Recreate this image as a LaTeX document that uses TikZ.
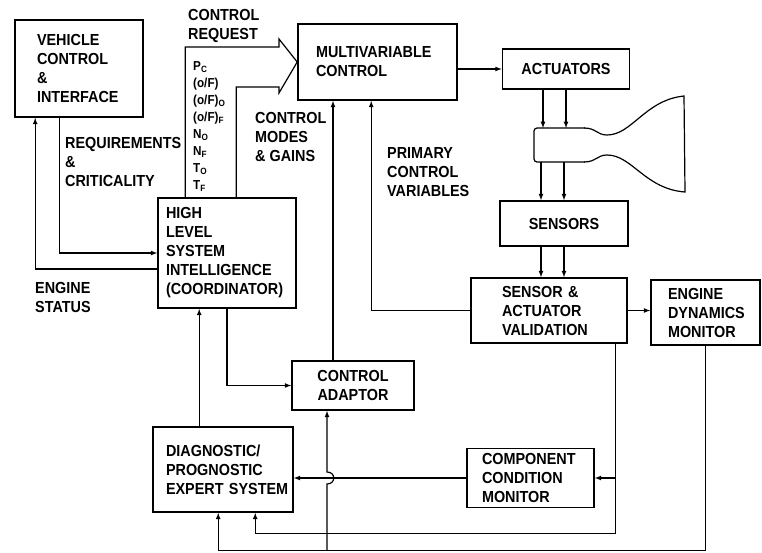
\documentclass[tikz,border=0pt]{standalone}
\usepackage{fontspec}
\setmainfont{Liberation Sans}[FakeStretch=0.9]
\usetikzlibrary{arrows,calc}
\tikzstyle{block}=[draw,line width=1.6pt,inner sep=0pt,font=\bfseries\fontsize{16}{19}\selectfont]
\tikzstyle{edge} = [draw,line width=1.2pt,-latex]
\tikzstyle{line} = [draw,line width=1.2pt]
\tikzstyle{tag} = [inner sep=0pt,anchor=north west,align=left,font=\bfseries\fontsize{16}{19}\selectfont]
\tikzstyle{sig} = [inner sep=0pt,anchor=north west,align=left,font=\bfseries\fontsize{13}{17}\selectfont]

\begin{document}
\begin{tikzpicture}[x=1pt,y=-1pt]
    \useasboundingbox (0,0) rectangle (762,552);

    % boxes
    \node[block,minimum width=128pt,minimum height=97pt,text width=84pt,align=left] (veh) at (79,68.5) {VEHICLE\\CONTROL\\\&\\INTERFACE};
    \node[block,minimum width=159pt,minimum height=76pt,text width=123pt,align=left] (mvc) at (377.5,62) {MULTIVARIABLE\\CONTROL};
    \node[block,minimum width=127pt,minimum height=40pt,align=center] (act) at (566,69) {ACTUATORS};
    \node[block,minimum width=128pt,minimum height=45pt,align=center] (sens) at (564,223.5) {SENSORS};
    \node[block,minimum width=138pt,minimum height=110pt,text width=122pt,align=left] (hlsi) at (227,253) {HIGH\\LEVEL\\SYSTEM\\INTELLIGENCE\\(COORDINATOR)};
    \node[block,minimum width=156pt,minimum height=65pt,text width=94pt,align=left] (sav) at (549,310.5) {SENSOR \&\\ACTUATOR\\VALIDATION};
    \node[block,minimum width=109pt,minimum height=65pt,text width=75pt,align=left] (edm) at (705.5,312.5) {ENGINE\\DYNAMICS\\MONITOR};
    \node[block,minimum width=122pt,minimum height=49pt,align=center] (cad) at (353,385.5) {CONTROL\\ADAPTOR};
    \node[block,minimum width=140pt,minimum height=85pt,text width=114pt,align=left] (diag) at (223,469.5) {DIAGNOSTIC/\\PROGNOSTIC\\\mbox{EXPERT SYSTEM}};
    \node[block,minimum width=127pt,minimum height=59pt,text width=97pt,align=left] (ccm) at (530.5,478) {COMPONENT\\CONDITION\\MONITOR};

    % labels
    \node[tag] (ctrlreq) at (188,9) {CONTROL\\REQUEST};
    \node[sig] (cmds) at (193,61) {P\textsubscript{C}\\(o/F)\\(o/F)\textsubscript{O}\\(o/F)\textsubscript{F}\\N\textsubscript{O}\\N\textsubscript{F}\\T\textsubscript{O}\\T\textsubscript{F}};
    \node[tag] (modes) at (255,112) {CONTROL\\MODES\\\& GAINS};
    \node[tag] (reqcrit) at (65,137) {REQUIREMENTS\\\&\\CRITICALITY};
    \node[tag] (engstat) at (35,282) {ENGINE\\STATUS};
    \node[tag] (primary) at (387,147) {PRIMARY\\CONTROL\\VARIABLES};

    % engine
    \coordinate (chtop) at (566,128);
    \coordinate (chbot) at (564,162);
    \draw[line,rounded corners=3pt] (585,128) -- (534,128) -- (534,162) -- (585,162);
    \draw[line] (584,128) .. controls (596,128) and (597,135) .. (607,135)
        .. controls (632,135) and (645,100) .. (684,96)
        -- (685,192)
        .. controls (645,189) and (632,155) .. (607,155)
        .. controls (597,155) and (596,162) .. (584,162);

    % request arrow
    \draw[line,line join=miter] ($(hlsi.north west)+(28,0)$) |- (279,47) -- (279,39) -- (mvc.west)
        -- (279,93) -- (279,87) -| ($(hlsi.north west)+(79,0)$);

    % signal flow
    \path[edge] (mvc.east |- act.west) -- (act.west);
    \foreach \dx in {-23,0}
    {
        \path[edge] ($(act.south)+(\dx,0)$) -- ($(chtop)+(\dx,0)$);
        \path[edge] ($(chbot)+(\dx,0)$) -- ($(sens.north)+(\dx,0)$);
        \path[edge] ($(sens.south)+(\dx,0)$) -- ($(sav.north)+(\dx+15,0)$);
    }
    \path[edge] (sav.east) -- (sav.east -| edm.west);

    \path[edge] ($(veh.south west)+(45,0)$) |- (hlsi.west);
    \path[edge] ($(hlsi.west)+(0,16)$) -| ($(veh.south west)+(21,0)$);
    \path[edge] (hlsi.south) |- (cad.west);

    \coordinate (d1) at ($(diag.north west)+(47,0)$);
    \path[edge] (d1) -- (d1 |- hlsi.south);
    \coordinate (c1) at ($(cad.north)+(-20,0)$);
    \path[edge] (c1) -- (c1 |- mvc.south);
    \coordinate (m1) at ($(mvc.south west)+(74,0)$);
    \path[edge] (sav.west) -| (m1);

    % monitor feedback
    \coordinate (s1) at ($(sav.south east)+(-12,0)$);
    \coordinate (b1) at ($(diag.south west)+(103,21)$);
    \path[edge] (s1) |- (b1) -- (b1 |- diag.south);
    \path[edge] (s1 |- ccm.east) -- (ccm.east);
    \coordinate (b2) at ($(diag.south west)+(66,38)$);
    \path[edge] (edm.south) |- (b2) -- (b2 |- diag.south);
    \path[edge] (ccm.west) -- (ccm.west -| diag.east);
    \coordinate (c2) at ($(cad.south)+(-26,0)$);
    \coordinate (hop) at (c2 |- ccm.west);
    \path[edge] (c2 |- b2) -- ($(hop)+(0,6)$) .. controls +(9,0) and +(9,0) .. ($(hop)+(0,-6)$) -- (c2);
\end{tikzpicture}
\end{document}
